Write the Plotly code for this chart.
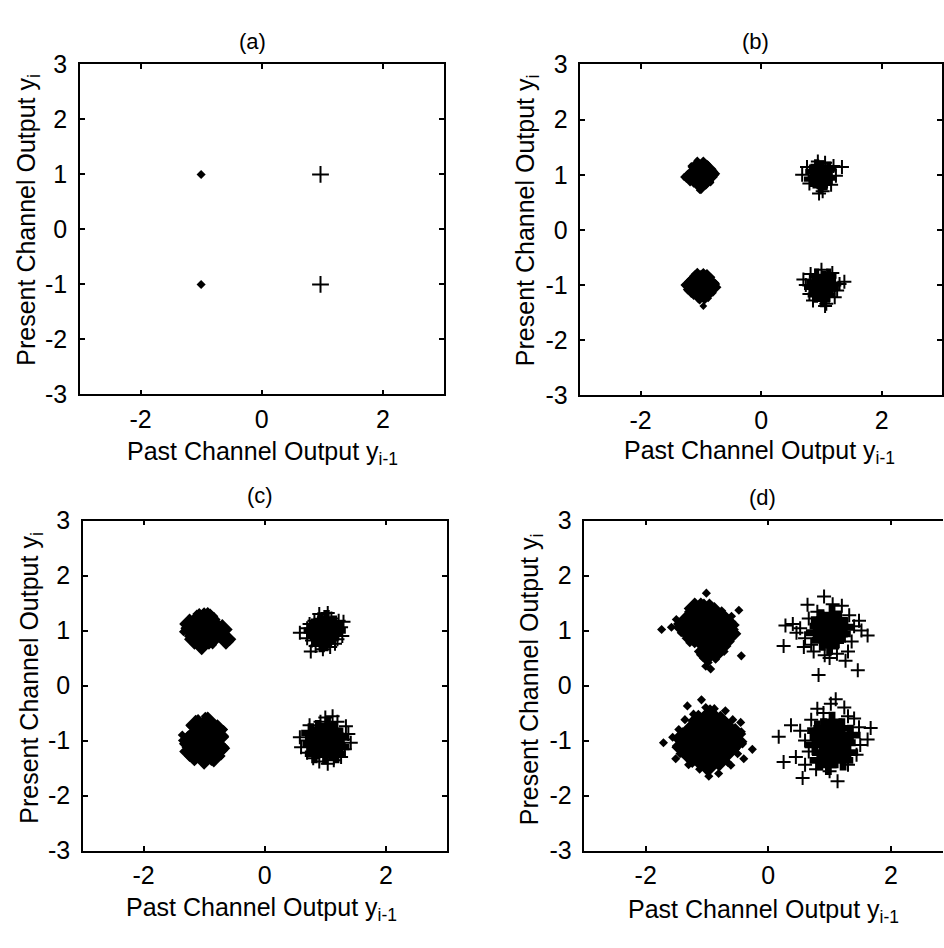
import plotly.graph_objects as go

# ---------------- data ----------------
x_tick_vals = [-2, 0, 2]
x_tick_text = ["-2", "0", "2"]
y_tick_vals = [-3, -2, -1, 0, 1, 2, 3]
y_tick_text = ["-3", "-2", "-1", "0", "1", "2", "3"]
panel_titles = ["(a)", "(b)", "(c)", "(d)"]
x_title = "Past Channel Output y<sub>i-1</sub>"
y_title = "Present Channel Output y<sub>i</sub>"

# (a) noiseless channel states
a_diamond_x = [-1.0, -1.0]
a_diamond_y = [1.0, -1.0]
a_plus_x = [0.97, 0.97]
a_plus_y = [1.0, -1.0]

# (b)
b_dcore_x = [-1.0, -1.1, -0.9, -1.0, -1.02, -1.12, -0.88, -0.92, -1.08, -0.86, -1.16, -1.0, -0.96, -0.82,
             -1.0, -0.92, -1.08, -1.0, -0.98, -1.14, -0.86, -1.06, -0.9, -1.16, -0.82, -1.04, -0.94, -1.2, -0.8]
b_dcore_y = [1.0, 1.05, 1.0, 1.12, 0.88, 0.92, 1.1, 0.88, 1.14, 0.96, 1.0, 0.8, 1.18, 1.02,
             -1.0, -0.96, -1.04, -0.88, -1.12, -0.94, -1.06, -0.84, -0.86, -1.08, -0.98, -1.18, -1.2, -1.0, -1.04]
b_diamond_x = [-1.28, -1.22, -1.06, -1.02, -0.76, -0.78, -1.16, -1.18, -0.84, -0.9, -1.24,
               -1.1, -0.96, -1.22, -0.8, -1.12, -1.02, -0.88, -0.84, -1.18, -0.96, -0.76, -1.26]
b_diamond_y = [0.96, 1.02, 1.26, 0.72, 1.0, 1.06, 1.16, 0.86, 0.86, 1.2, 0.92,
               -0.8, -0.76, -1.1, -1.14, -1.2, -1.28, -1.24, -0.88, -0.9, -1.38, -0.96, -1.0]
b_pcore_x = [0.98, 1.06, 0.9, 1.0, 0.96, 1.12, 0.86, 1.06, 0.92, 1.12, 0.84, 0.98,
             1.02, 1.1, 0.94, 1.04, 1.0, 1.16, 0.88, 1.1, 0.9, 1.12, 0.92, 1.2, 0.84, 1.02]
b_pcore_y = [1.0, 1.04, 0.96, 1.12, 0.88, 0.94, 1.06, 0.86, 1.14, 1.1, 0.92, 0.8,
             -1.02, -0.96, -1.08, -0.88, -1.16, -1.06, -0.94, -1.18, -1.18, -0.84, -0.84, -0.98, -1.04, -1.26]
b_plus_x = [0.68, 1.24, 1.2, 0.94, 1.06, 1.02, 0.8, 1.16, 0.76, 1.34, 0.96,
            0.74, 1.3, 0.7, 1.26, 1.0, 1.08, 0.86, 1.18, 0.82, 1.22, 1.06, 0.8, 1.38]
b_plus_y = [1.0, 0.98, 1.16, 1.24, 1.22, 0.7, 0.84, 0.82, 1.14, 1.14, 0.66,
            -1.0, -0.98, -0.9, -1.1, -0.72, -1.34, -1.28, -0.78, -0.8, -1.22, -1.38, -1.16, -0.94]

# (c)
c_dcore_x = [-1.0, -1.1, -0.9, -1.02, -0.98, -1.16, -0.84, -0.92, -1.08, -1.22, -0.82, -1.06, -0.94, -1.24,
             -0.86, -1.16, -0.9, -1.04, -0.7, -0.64,
             -1.0, -0.9, -1.1, -1.0, -0.98, -1.18, -0.82, -1.06, -0.88, -1.2, -0.76, -1.04, -0.9, -1.26,
             -0.74, -1.14, -0.94, -1.24, -0.78, -1.16, -1.0, -0.84, -0.78]
c_dcore_y = [1.02, 1.06, 0.98, 1.14, 0.9, 0.96, 1.08, 0.84, 1.22, 1.04, 0.98, 0.8, 1.24, 1.12,
             0.86, 0.84, 1.2, 0.74, 1.02, 0.84,
             -1.0, -0.96, -1.04, -0.86, -1.12, -0.92, -1.06, -0.76, -0.8, -1.12, -0.94, -1.24, -1.22, -1.0,
             -1.14, -0.72, -0.66, -1.2, -0.8, -1.28, -1.34, -1.3, -1.18]
c_diamond_x = [-1.3, -0.78, -1.0, -1.3, -1.18, -0.86, -0.9, -1.12, -0.58, -1.26, -0.84, -1.02, -1.34, -0.74,
               -1.34, -0.66, -0.98, -1.36, -0.66, -1.22, -0.68, -0.88, -1.0, -1.3, -0.72, -1.1]
c_diamond_y = [1.0, 1.14, 1.34, 1.12, 1.18, 0.74, 1.32, 1.3, 0.8, 0.9, 1.26, 0.68, 0.98, 0.92,
               -1.06, -0.92, -0.56, -0.9, -1.12, -0.74, -0.8, -1.38, -1.42, -1.22, -1.28, -0.6]
c_pcore_x = [0.98, 1.06, 0.9, 1.0, 0.96, 1.12, 0.86, 1.06, 0.92, 1.14, 0.84, 1.0, 1.02, 1.18, 0.8, 0.94,
             1.0, 1.08, 0.92, 1.02, 0.98, 1.16, 0.84, 1.1, 0.86, 1.14, 0.88, 1.22, 0.78, 1.0, 1.04, 1.24,
             0.76, 0.94, 1.06, 0.82, 1.18]
c_pcore_y = [1.0, 1.04, 0.96, 1.1, 0.88, 0.94, 1.06, 0.86, 1.16, 1.1, 0.92, 0.8, 1.2, 1.0, 1.0, 0.78,
             -1.0, -0.94, -1.06, -0.86, -1.14, -1.04, -0.94, -1.18, -1.16, -0.82, -0.8, -0.94, -1.06, -1.26,
             -0.74, -1.12, -0.86, -0.96, -1.06, -1.24, -1.24]
c_plus_x = [1.1, 0.82, 1.2, 0.78, 1.26, 0.7, 0.58, 1.28, 0.9, 1.04, 0.84, 1.08, 0.76, 1.22, 1.3, 0.74,
            0.96, 1.16, 0.7,
            1.3, 0.68, 0.6, 1.38, 1.2, 1.34, 1.0, 1.12, 0.74, 0.7, 0.9, 1.14, 1.04, 1.32, 0.8, 1.26,
            0.92, 1.42, 0.58]
c_plus_y = [1.22, 1.18, 0.84, 0.82, 1.06, 1.04, 0.96, 0.9, 1.3, 1.32, 0.72, 0.7, 0.62, 1.18, 1.16, 1.12,
            0.66, 0.76, 0.86,
            -0.98, -1.0, -1.12, -0.88, -0.66, -0.74, -0.58, -0.56, -0.72, -1.22, -1.38, -1.36, -1.42,
            -1.16, -1.32, -1.3, -0.66, -1.04, -0.94]

# (d)
d_dcore_x = [-0.95, -1.1, -0.8, -0.95, -0.95, -1.25, -0.66, -1.1, -0.8, -1.1, -0.8, -0.95, -0.95, -1.25,
             -0.7, -1.2, -0.72, -1.05, -0.85, -1.38, -0.88, -1.02, -1.15, -0.78, -1.32, -0.62, -1.0, -1.2,
             -0.95, -1.1, -0.8, -0.95, -0.95, -1.26, -0.64, -1.1, -0.8, -1.1, -0.8, -0.95, -0.95, -1.28,
             -0.66, -1.28, -0.64, -1.14, -0.78, -1.12, -0.8, -1.4, -0.52, -0.95, -0.98, -1.4, -0.54, -1.24]
d_dcore_y = [1.02, 1.05, 1.0, 1.18, 0.86, 1.02, 1.02, 1.22, 1.2, 0.86, 0.84, 1.34, 0.7, 1.18,
             1.16, 0.88, 0.86, 1.38, 0.62, 1.06, 1.32, 0.74, 1.32, 0.72, 1.18, 0.94, 0.56, 1.4,
             -1.0, -0.96, -1.04, -0.84, -1.16, -1.0, -0.98, -0.8, -0.82, -1.18, -1.2, -0.68, -1.32, -0.84,
             -0.8, -1.16, -1.16, -0.64, -0.66, -1.34, -1.36, -0.96, -1.02, -0.54, -1.46, -1.12, -0.88, -1.3]
d_diamond_x = [-1.74, -1.01, -0.48, -0.44, -1.02, -0.94, -1.48, -1.42, -1.5, -1.3, -1.1, -0.96, -0.6,
               -0.54, -0.56, -0.62, -0.72, -0.86, -1.06, -1.14, -1.28, -1.34, -1.2, -0.76, -0.98, -1.58,
               -1.09, -1.32, -0.26, -0.4, -1.71, -0.81, -0.97, -0.61, -1.51, -0.45, -1.56, -1.5, -1.46,
               -1.36, -1.22, -0.7, -0.58, -0.44, -0.42, -0.5, -0.66, -1.12, -1.3, -1.44, -0.88, -1.02]
d_diamond_y = [1.02, 1.68, 1.37, 0.54, 0.35, 0.3, 1.12, 0.96, 1.2, 1.34, 1.52, 1.5, 1.26,
               1.1, 0.98, 0.8, 0.62, 0.48, 0.5, 0.62, 0.78, 0.86, 1.48, 1.36, 0.42, 1.06,
               -0.26, -0.37, -1.16, -1.33, -1.04, -1.6, -1.65, -1.45, -1.33, -0.67, -0.94, -1.1, -0.8,
               -0.62, -0.52, -0.46, -0.62, -0.84, -1.06, -1.24, -1.4, -1.52, -1.44, -1.24, -0.42, -0.4]
d_pcore_x = [1.0, 1.1, 0.9, 1.02, 0.98, 1.18, 0.84, 1.1, 0.88, 1.14, 0.86, 1.0, 1.04, 1.24, 0.78, 0.94, 1.06,
             1.05, 1.16, 0.94, 1.06, 1.02, 1.26, 0.84, 1.18, 0.88, 1.2, 0.9, 1.34, 0.76, 1.06, 1.04, 1.3,
             0.8, 0.96, 1.12, 0.84, 1.22, 0.98]
d_pcore_y = [1.0, 1.04, 0.96, 1.14, 0.86, 0.94, 1.08, 0.84, 0.82, 1.18, 1.2, 0.74, 1.28, 1.06, 0.96, 1.1, 0.92,
             -1.0, -0.94, -1.06, -0.84, -1.16, -1.04, -0.94, -1.2, -1.22, -0.78, -0.78, -0.9, -1.08, -1.32,
             -0.66, -1.22, -0.82, -0.94, -1.08, -1.36, -1.36, -1.44]
d_plus_x = [0.82, 1.46, 0.25, 0.64, 0.91, 1.62, 1.26, 0.28, 1.05, 1.2, 1.4, 1.52, 1.36, 1.3, 0.92, 0.74,
            0.6, 0.52, 0.66, 0.8, 0.46, 1.12, 1.48, 0.7, 1.32, 0.4, 1.0, 0.58,
            0.17, 0.25, 0.56, 1.13, 1.1, 1.67, 0.8, 0.37, 1.4, 1.62, 0.45, 1.02, 0.6, 0.52, 0.66, 0.7,
            1.3, 1.48, 1.5, 1.44, 1.3, 0.78, 1.0, 0.6, 1.24, 0.9]
d_plus_y = [0.19, 0.28, 0.72, 1.47, 1.62, 0.91, 0.45, 1.09, 1.48, 1.45, 1.08, 1.0, 0.8, 0.62, 0.55, 0.62,
            0.86, 1.04, 1.22, 1.34, 0.96, 0.58, 1.18, 0.74, 1.28, 1.12, 0.5, 0.7,
            -0.93, -1.39, -1.68, -1.74, -0.25, -0.77, -0.42, -0.72, -0.6, -0.98, -1.3, -0.33, -1.0, -0.82,
            -1.2, -0.62, -0.56, -0.76, -1.08, -1.26, -1.44, -1.52, -1.56, -1.44, -0.4, -0.5]

# ---------------- layout geometry ----------------
W, H = 944, 948
FONT = "Liberation Sans, Arial, Helvetica, sans-serif"
# pixel boxes: (left, right, top, bottom)
boxes = [(80, 444, 52, 392), (581, 943, 52, 393), (83, 447, 522, 862), (585, 944, 522, 862)]
x_ranges = [[-3, 3], [-3, 3], [-3, 3], [-3, 2.85]]
right_edge_visible = [True, True, True, False]
# marker sizes per panel: small diamond, core diamond, thin plus, core plus
sizes = [(7, 0, 12, 0), (6, 13, 10, 13), (7, 16, 10, 16), (7, 17, 10, 17)]


def px(x):
    return x / W


def py(y):
    return 1 - y / H


panels = [
    dict(dx=a_diamond_x, dy=a_diamond_y, dcx=[], dcy=[], px_=a_plus_x, py_=a_plus_y, pcx=[], pcy=[]),
    dict(dx=b_diamond_x, dy=b_diamond_y, dcx=b_dcore_x, dcy=b_dcore_y, px_=b_plus_x, py_=b_plus_y,
         pcx=b_pcore_x, pcy=b_pcore_y),
    dict(dx=c_diamond_x, dy=c_diamond_y, dcx=c_dcore_x, dcy=c_dcore_y, px_=c_plus_x, py_=c_plus_y,
         pcx=c_pcore_x, pcy=c_pcore_y),
    dict(dx=d_diamond_x, dy=d_diamond_y, dcx=d_dcore_x, dcy=d_dcore_y, px_=d_plus_x, py_=d_plus_y,
         pcx=d_pcore_x, pcy=d_pcore_y),
]

fig = go.Figure()
for i, p in enumerate(panels):
    suf = "" if i == 0 else str(i + 1)
    xa, ya = "x" + suf, "y" + suf
    s_d, s_dc, s_p, s_pc = sizes[i]
    if p["dcx"]:
        fig.add_trace(go.Scatter(x=p["dcx"], y=p["dcy"], mode="markers", xaxis=xa, yaxis=ya,
                                 marker=dict(symbol="diamond", size=s_dc, color="black", line=dict(width=0))))
    fig.add_trace(go.Scatter(x=p["dx"], y=p["dy"], mode="markers", xaxis=xa, yaxis=ya,
                             marker=dict(symbol="diamond", size=s_d, color="black", line=dict(width=0))))
    if p["pcx"]:
        fig.add_trace(go.Scatter(x=p["pcx"], y=p["pcy"], mode="markers", xaxis=xa, yaxis=ya,
                                 marker=dict(symbol="cross", size=s_pc, color="black", line=dict(width=0))))
    fig.add_trace(go.Scatter(x=p["px_"], y=p["py_"], mode="markers", xaxis=xa, yaxis=ya,
                             marker=dict(symbol="cross-thin", size=s_p, color="black",
                                         line=dict(width=2, color="black"))))

layout = dict(
    width=W, height=H, margin=dict(l=0, r=0, t=0, b=0),
    paper_bgcolor="white", plot_bgcolor="white", showlegend=False,
    font=dict(family=FONT, color="black", size=24),
)
annotations = []
for i, (l, r, t, b) in enumerate(boxes):
    suf = "" if i == 0 else str(i + 1)
    layout["xaxis" + suf] = dict(
        domain=[px(l), px(r)], range=x_ranges[i], anchor="y" + suf,
        showline=True, linecolor="black", linewidth=1.5, mirror="ticks",
        ticks="inside", ticklen=5, tickwidth=1.5, tickcolor="black",
        tickvals=x_tick_vals, ticktext=x_tick_text, ticklabelstandoff=2,
        tickfont=dict(size=25, family=FONT, color="black"),
        showgrid=False, zeroline=False, fixedrange=True,
    )
    layout["yaxis" + suf] = dict(
        domain=[py(b), py(t)], range=[-3, 3], anchor="x" + suf,
        showline=True, linecolor="black", linewidth=1.5,
        mirror="ticks" if right_edge_visible[i] else False,
        ticks="inside", ticklen=5, tickwidth=1.5, tickcolor="black",
        tickvals=y_tick_vals, ticktext=y_tick_text, ticklabelstandoff=6,
        tickfont=dict(size=25, family=FONT, color="black"),
        showgrid=False, zeroline=False, fixedrange=True,
    )

title_pos = [(253, 28), (756, 28), (260, 496), (763, 498)]
xtitle_pos = [(263, 452), (760, 451), (262, 922), (764, 924)]
ytitle_pos = [(28, 212), (527, 212), (31, 684), (531, 685)]
for i in range(4):
    tx, ty = title_pos[i]
    annotations.append(dict(text=panel_titles[i], x=px(tx), y=py(ty), xref="paper", yref="paper",
                            xanchor="center", yanchor="middle", showarrow=False,
                            font=dict(size=22, family=FONT, color="black")))
    xx, xy = xtitle_pos[i]
    annotations.append(dict(text=x_title, x=px(xx), y=py(xy), xref="paper", yref="paper",
                            xanchor="center", yanchor="middle", showarrow=False,
                            font=dict(size=25, family=FONT, color="black")))
    yx, yy = ytitle_pos[i]
    annotations.append(dict(text=y_title, x=px(yx), y=py(yy), xref="paper", yref="paper",
                            xanchor="center", yanchor="middle", showarrow=False, textangle=-90,
                            font=dict(size=25, family=FONT, color="black")))
layout["annotations"] = annotations
fig.update_layout(**layout)
fig.write_html("out.html")
